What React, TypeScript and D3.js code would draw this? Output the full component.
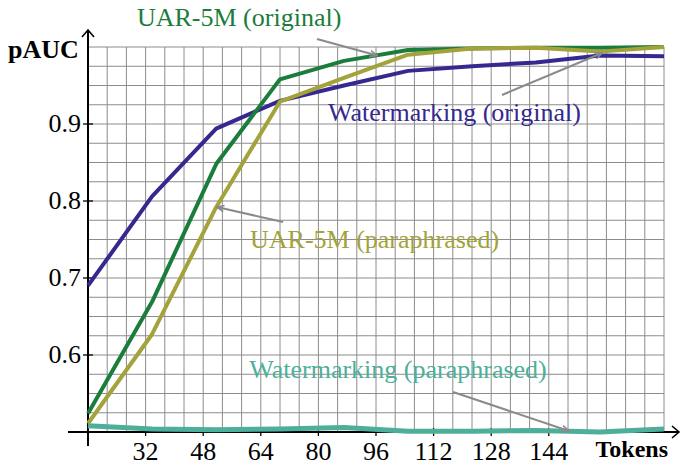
import * as d3 from "d3";

const tokens = [16, 33.8, 51.6, 69.3, 87.1, 104.9, 122.7, 140.4, 158.2, 176];

const wmOriginal = [0.690, 0.806, 0.894, 0.930, 0.950, 0.969, 0.975, 0.980, 0.989, 0.988];
const uarOriginal = [0.524, 0.669, 0.848, 0.958, 0.982, 0.996, 0.998, 0.999, 0.999, 1.0];
const uarParaphrased = [0.511, 0.627, 0.792, 0.929, 0.960, 0.990, 0.998, 0.999, 0.994, 1.0];
const wmParaphrased = [0.508, 0.504, 0.503, 0.504, 0.506, 0.501, 0.501, 0.502, 0.500, 0.504];

const xTickLabels = [32, 48, 64, 80, 96, 112, 128, 144];
const yTickLabels = [0.6, 0.7, 0.8, 0.9];

const series = [
  { name: "Watermarking (paraphrased)", values: wmParaphrased, color: "#4daf9a", width: 5 },
  { name: "Watermarking (original)", values: wmOriginal, color: "#35288f", width: 4 },
  { name: "UAR-5M (original)", values: uarOriginal, color: "#1b7d3b", width: 4 },
  { name: "UAR-5M (paraphrased)", values: uarParaphrased, color: "#a3a23b", width: 4 },
];

// annotation text + arrow (label position, arrow from -> to) in data coords
const notes = [
  { text: "UAR-5M (original)", color: "#1b7d3b", at: [29.6, 1.0273], from: [79.6, 1.0104], to: [96.3, 0.989] },
  { text: "Watermarking (original)", color: "#35288f", at: [82.7, 0.9043], from: [131, 0.9377], to: [158.8, 0.9922] },
  { text: "UAR-5M (paraphrased)", color: "#a3a23b", at: [61, 0.7386], from: [70.2, 0.7727], to: [51.8, 0.7922] },
  { text: "Watermarking (paraphrased)", color: "#4daf9a", at: [60.8, 0.5697], from: [117.4, 0.552], to: [149.6, 0.5013] },
];

export default function App() {
  const width = 683;
  const height = 463;
  const font = "'Liberation Serif', 'Times New Roman', serif";

  const x = d3.scaleLinear([16, 176], [88, 664]);
  const y = d3.scaleLinear([0.5, 1.0], [432, 47]);

  const xGrid = d3.range(0, 31).map((k) => 16 + (k * 16) / 3);
  const yGrid = d3.range(0, 21).map((k) => 0.5 + k * 0.025);

  const line = d3
    .line<number>()
    .x((_, i) => x(tokens[i]))
    .y((d) => y(d));

  return (
    <svg
      width={width}
      height={height}
      style={{ position: "absolute", left: 0, top: 0, background: "white" }}
      fontFamily={font}
    >
      <defs>
        <marker
          id="arr"
          viewBox="0 0 10 10"
          refX="9"
          refY="5"
          markerWidth="9"
          markerHeight="9"
          markerUnits="userSpaceOnUse"
          orient="auto"
        >
          <path d="M1,1.5 L9,5 L1,8.5" fill="none" stroke="#8a8a8a" strokeWidth="1.8" />
        </marker>
      </defs>

      {/* grid */}
      <g stroke="#8c8c8c" strokeWidth={1}>
        {xGrid.map((g) => (
          <line key={"x" + g} x1={x(g)} x2={x(g)} y1={y(1)} y2={y(0.5)} />
        ))}
        {yGrid.map((g) => (
          <line key={"y" + g} x1={x(16)} x2={x(176)} y1={y(g)} y2={y(g)} />
        ))}
      </g>

      {/* axes */}
      <g stroke="black" strokeWidth={2} fill="none">
        <line x1={68} x2={678} y1={y(0.5)} y2={y(0.5)} />
        <line x1={x(16)} x2={x(16)} y1={446} y2={30} />
        <path d={`M672,${y(0.5) - 6} L679,${y(0.5)} L672,${y(0.5) + 6}`} strokeWidth={1.6} />
        <path d={`M${x(16) - 6},37 L${x(16)},30 L${x(16) + 6},37`} strokeWidth={1.6} />
        {xTickLabels.map((t) => (
          <line key={t} x1={x(t)} x2={x(t)} y1={y(0.5) - 4} y2={y(0.5) + 4} strokeWidth={1.3} />
        ))}
        {yTickLabels.map((t) => (
          <line key={t} x1={x(16) - 5} x2={x(16) + 5} y1={y(t)} y2={y(t)} strokeWidth={1.3} />
        ))}
      </g>

      {/* tick labels */}
      <g fontSize={26} fill="black">
        {xTickLabels.map((t) => (
          <text key={t} x={x(t)} y={460} textAnchor="middle">
            {t}
          </text>
        ))}
        {yTickLabels.map((t) => (
          <text key={t} x={81} y={y(t) + 8} textAnchor="end">
            {t.toFixed(1)}
          </text>
        ))}
      </g>
      <text x={8} y={58} fontSize={26} fontWeight="bold">
        pAUC
      </text>
      <text x={668} y={457} fontSize={24} fontWeight="bold" textAnchor="end">
        Tokens
      </text>

      {/* series */}
      {series.map((s) => (
        <path
          key={s.name}
          d={line(s.values) ?? ""}
          fill="none"
          stroke={s.color}
          strokeWidth={s.width}
          strokeLinejoin="round"
        />
      ))}

      {/* annotations */}
      {notes.map((n) => (
        <g key={n.text}>
          <text x={x(n.at[0])} y={y(n.at[1])} fontSize={26} fill={n.color}>
            {n.text}
          </text>
          <line
            x1={x(n.from[0])}
            y1={y(n.from[1])}
            x2={x(n.to[0])}
            y2={y(n.to[1])}
            stroke="#8a8a8a"
            strokeWidth={2}
            markerEnd="url(#arr)"
          />
        </g>
      ))}
    </svg>
  );
}
